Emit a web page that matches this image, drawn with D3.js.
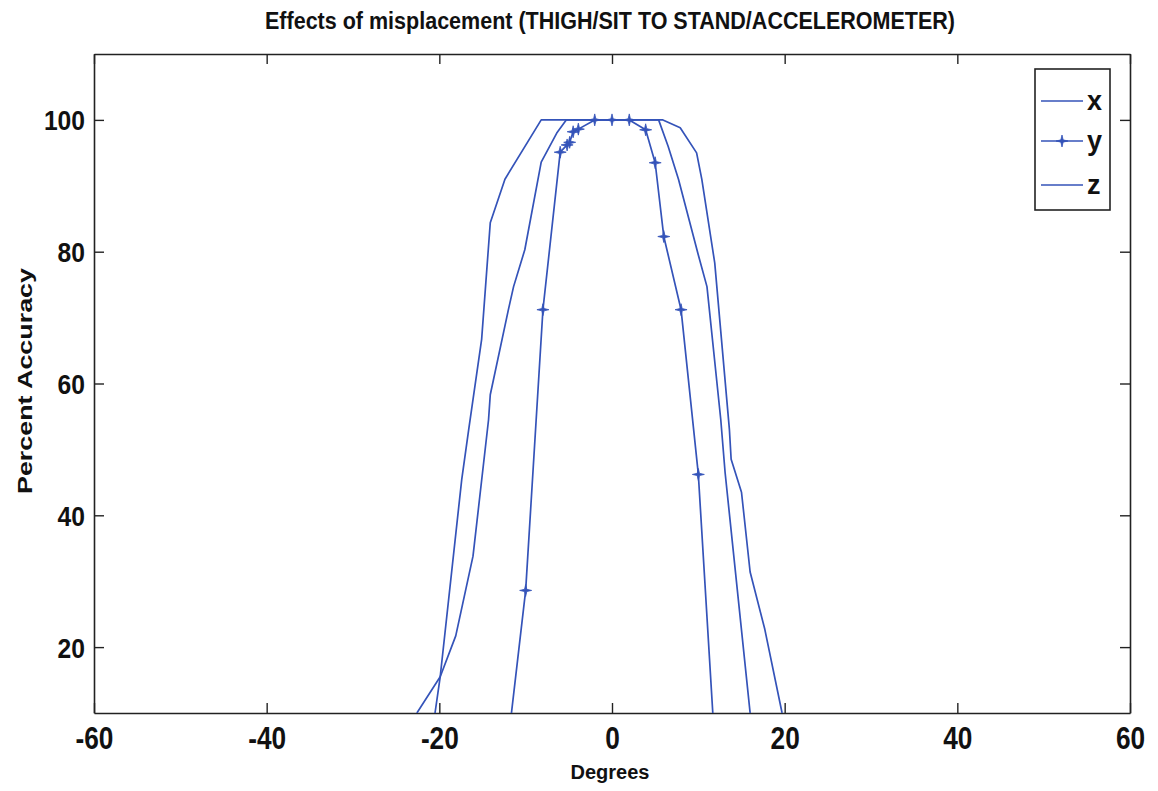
<!DOCTYPE html>
<html>
<head>
<meta charset="utf-8">
<script src="https://cdn.jsdelivr.net/npm/d3@7"></script>
<style>
  html, body { margin: 0; padding: 0; background: #fff; }
  svg { display: block; }
  .bold { font-family: "Liberation Sans", Arial, sans-serif; font-weight: bold; }
</style>
</head>
<body>
<svg id="chart" width="1158" height="791"></svg>
<script>
// ---- Data ----
const titleText = "Effects of misplacement (THIGH/SIT TO STAND/ACCELEROMETER)";
const xLabel = "Degrees";
const yLabel = "Percent Accuracy";
const xTicks = [-60, -40, -20, 0, 20, 40, 60];
const yTicks = [20, 40, 60, 80, 100];
const seriesNames = ["x", "y", "z"];

// series x (outer unmarked curve)
const xSeriesDeg = [-20.5, -19.9, -17.4, -16.6, -15.1, -14.1, -12.4, -8.2, 5.9, 7.9, 9.8, 10.4, 11.9, 13.6, 13.8, 15.0, 16.0, 17.7, 19.7];
const xSeriesAcc = [10, 15.5, 45.5, 53, 66.7, 84.4, 91, 100, 100, 98.8, 95, 91, 78.3, 53, 48.5, 43.5, 31.4, 22.7, 10];

// series y (marked curve)
const ySeriesDeg = [-12, -10, -8, -6, -5.2, -4.9, -4.5, -3.9, -2, 0, 2, 3.9, 5, 6, 8, 10, 12];
const ySeriesAcc = [6, 28.6, 71.2, 95.1, 96.2, 96.6, 98.2, 98.6, 100, 100, 100, 98.5, 93.5, 82.3, 71.2, 46.2, 3];

// series z (inner unmarked curve)
const zSeriesDeg = [-22.6, -19.9, -18.1, -16.1, -14.3, -14.1, -12.0, -11.4, -10.1, -8.2, -6.4, -5.3, 5.4, 6.5, 7.7, 10.0, 11.0, 12.6, 13.1, 16.0];
const zSeriesAcc = [10, 15.5, 21.7, 33.8, 54.5, 58.3, 71.2, 74.7, 80.3, 93.6, 98, 100, 100, 96, 91, 79.5, 74.7, 54.5, 46.5, 10];

// ---- Chart ----
const svg = d3.select("#chart");
const pLeft = 94, pRight = 1130, pTop = 54, pBottom = 713;
const x = d3.scaleLinear().domain([-60, 60]).range([pLeft, pRight]);
const y = d3.scaleLinear().domain([10, 110]).range([pBottom, pTop]);
const lineColor = "#3453b9";
const axisColor = "#222";
const tickLen = 10;
const fmt = d => String(d); // ASCII hyphen minus as in the reference

svg.append("defs").append("clipPath").attr("id", "plotclip")
  .append("rect").attr("x", pLeft).attr("y", pTop).attr("width", pRight - pLeft).attr("height", pBottom - pTop);

// Title
svg.append("text").attr("class", "bold")
  .attr("x", 610).attr("y", 29).attr("text-anchor", "middle")
  .attr("font-size", 23).attr("fill", "#111")
  .attr("textLength", 690).attr("lengthAdjust", "spacingAndGlyphs")
  .text(titleText);

// Axes (MATLAB style box with inward ticks on all sides)
const gAxes = svg.append("g");
const gx = gAxes.append("g").attr("transform", `translate(0,${pBottom})`)
  .call(d3.axisBottom(x).tickValues(xTicks).tickSizeInner(-tickLen).tickSizeOuter(0).tickPadding(0).tickFormat(fmt));
const gxt = gAxes.append("g").attr("transform", `translate(0,${pTop})`)
  .call(d3.axisTop(x).tickValues(xTicks).tickSizeInner(-tickLen).tickSizeOuter(0).tickFormat(""));
const gy = gAxes.append("g").attr("transform", `translate(${pLeft},0)`)
  .call(d3.axisLeft(y).tickValues(yTicks).tickSizeInner(-tickLen).tickSizeOuter(0).tickPadding(0).tickFormat(fmt));
const gyr = gAxes.append("g").attr("transform", `translate(${pRight},0)`)
  .call(d3.axisRight(y).tickValues(yTicks).tickSizeInner(-tickLen).tickSizeOuter(0).tickFormat(""));
[gx, gxt, gy, gyr].forEach(g => g.attr("font-family", null).attr("font-size", null));
gAxes.selectAll(".domain").attr("stroke", axisColor).attr("stroke-width", 1.6);
gAxes.selectAll(".tick line").attr("stroke", axisColor).attr("stroke-width", 1.4);

// x tick labels: condensed bold (narrow look via horizontal scale)
gx.selectAll(".tick text")
  .attr("class", "bold").attr("fill", "#111").attr("font-size", 32)
  .attr("y", null).attr("dy", null)
  .attr("transform", "translate(0,36) scale(0.82,1)");
// y tick labels
gy.selectAll(".tick text")
  .attr("class", "bold").attr("fill", "#111").attr("font-size", 28)
  .attr("x", null).attr("dy", null)
  .attr("transform", "translate(-9,10) scale(0.88,1)");

// Axis labels
svg.append("text").attr("class", "bold")
  .attr("x", 610).attr("y", 779).attr("text-anchor", "middle")
  .attr("font-size", 20).attr("fill", "#111").text(xLabel);
svg.append("text").attr("class", "bold")
  .attr("transform", "translate(32,381) rotate(-90)")
  .attr("text-anchor", "middle").attr("font-size", 20).attr("fill", "#111")
  .attr("textLength", 226).attr("lengthAdjust", "spacingAndGlyphs")
  .text(yLabel);

// Data lines
const series = [
  { name: seriesNames[0], deg: xSeriesDeg, acc: xSeriesAcc, marker: false },
  { name: seriesNames[1], deg: ySeriesDeg, acc: ySeriesAcc, marker: true },
  { name: seriesNames[2], deg: zSeriesDeg, acc: zSeriesAcc, marker: false }
];
const line = d3.line().x(d => x(d[0])).y(d => y(d[1]));
const plot = svg.append("g").attr("clip-path", "url(#plotclip)");

function starPath(r, ri) {
  const pts = [];
  for (let i = 0; i < 8; i++) {
    const a = i * Math.PI / 4;
    const rr = i % 2 === 0 ? r : ri;
    pts.push([rr * Math.cos(a), rr * Math.sin(a)]);
  }
  return "M" + pts.map(p => p[0].toFixed(2) + "," + p[1].toFixed(2)).join("L") + "Z";
}
const markerD = starPath(6, 1.6);

series.forEach(s => {
  const pts = s.deg.map((d, i) => [d, s.acc[i]]);
  plot.append("path").datum(pts).attr("d", line)
    .attr("fill", "none").attr("stroke", lineColor).attr("stroke-width", 1.7)
    .attr("stroke-linejoin", "round");
  if (s.marker) {
    plot.selectAll(null).data(pts).enter().append("path")
      .attr("d", markerD)
      .attr("transform", d => `translate(${x(d[0])},${y(d[1])})`)
      .attr("fill", lineColor).attr("stroke", lineColor).attr("stroke-width", 0.8);
  }
});

// Legend
const lg = svg.append("g");
lg.append("rect").attr("x", 1035).attr("y", 69).attr("width", 75).attr("height", 141)
  .attr("fill", "#fff").attr("stroke", axisColor).attr("stroke-width", 1.6);
const legendY = [101, 141, 185];
series.forEach((s, i) => {
  const yy = legendY[i];
  lg.append("line").attr("x1", 1041).attr("x2", 1083).attr("y1", yy).attr("y2", yy)
    .attr("stroke", lineColor).attr("stroke-width", 1.6);
  if (s.marker) {
    lg.append("path").attr("d", markerD).attr("transform", `translate(1062,${yy})`)
      .attr("fill", lineColor).attr("stroke", lineColor).attr("stroke-width", 0.8);
  }
  lg.append("text").attr("class", "bold").attr("x", 1087).attr("y", yy + 9)
    .attr("font-size", 27).attr("fill", "#111").text(s.name);
});
</script>
</body>
</html>
